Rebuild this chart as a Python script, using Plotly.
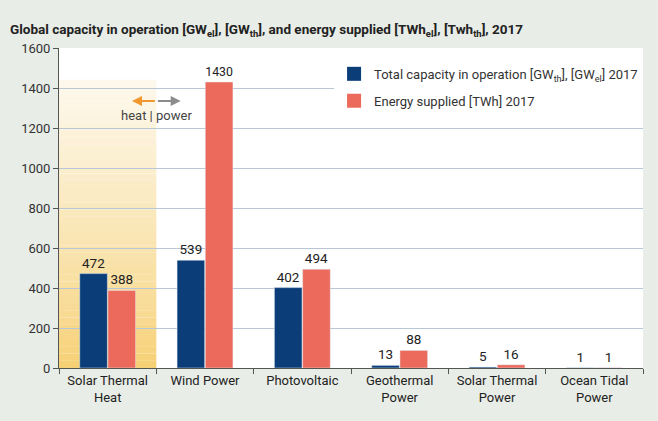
import plotly.graph_objects as go

categories = ["Solar Thermal<br>Heat", "Wind Power", "Photovoltaic",
              "Geothermal<br>Power", "Solar Thermal<br>Power", "Ocean Tidal<br>Power"]
capacity = [472, 539, 402, 13, 5, 1]
energy = [388, 1430, 494, 88, 16, 1]
y_ticks = [0, 200, 400, 600, 800, 1000, 1200, 1400, 1600]
names = ["Total capacity in operation [GW<sub>th</sub>], [GW<sub>el</sub>] 2017",
         "Energy supplied [TWh] 2017"]

FONT = "Roboto, 'Noto Sans', sans-serif"
BLUE = "#0b3e78"
ORANGE = "#ec6a5b"

fig = go.Figure()
for vals, col, nm, g in [(capacity, BLUE, names[0], "a"), (energy, ORANGE, names[1], "b")]:
    fig.add_trace(go.Bar(
        x=categories, y=vals, name=nm, marker_color=col, showlegend=False, legendgroup=g,
        text=[str(v) for v in vals], textposition="outside",
        textfont=dict(size=13.5, color="#222"), cliponaxis=False))
for col, nm, g in [(BLUE, names[0], "a"), (ORANGE, names[1], "b")]:
    fig.add_trace(go.Scatter(
        x=[None], y=[None], mode="markers", name=nm, legendgroup=g,
        marker=dict(symbol="square", size=14, color=col)))

# yellow gradient shading behind first category
n = 40
top = 1440
c0 = (246, 208, 116)
c1 = (253, 248, 236)
shapes = []
for i in range(n):
    t = (i / (n - 1)) ** 0.8
    col = tuple(int(round(c0[k] + (c1[k] - c0[k]) * t)) for k in range(3))
    shapes.append(dict(type="rect", xref="x", yref="y", x0=-0.5, x1=0.5,
                       y0=top * i / n, y1=top * (i + 1) / n + 1,
                       fillcolor="rgb(%d,%d,%d)" % col, line=dict(width=0), layer="below"))

annotations = [
    dict(x=0.25, y=1335, ax=0.5, ay=1335, xref="x", yref="y", axref="x", ayref="y",
         showarrow=True, arrowhead=2, arrowsize=1, arrowwidth=2, arrowcolor="#f0982e", text=""),
    dict(x=0.75, y=1335, ax=0.5, ay=1335, xref="x", yref="y", axref="x", ayref="y",
         showarrow=True, arrowhead=2, arrowsize=1, arrowwidth=2, arrowcolor="#8c8c8c", text=""),
    dict(x=0.5, y=1262, xref="x", yref="y", text="heat | power", showarrow=False,
         font=dict(size=13, color="#444", family=FONT)),
]

fig.update_layout(
    width=658, height=421,
    margin=dict(l=59, r=15, t=48, b=53, autoexpand=False),
    paper_bgcolor="#e9ede7", plot_bgcolor="white",
    font=dict(family=FONT, size=13, color="#333"),
    title=dict(text="<b>Global capacity in operation [GW<sub>el</sub>], [GW<sub>th</sub>], and energy supplied [TWh<sub>el</sub>], [Twh<sub>th</sub>], 2017</b>",
               xref="container", x=10 / 658, xanchor="left", yref="container", y=1 - 29 / 421, yanchor="middle",
               font=dict(size=13.5, color="#222", family=FONT)),
    barmode="group", bargap=0.42, bargroupgap=0.02,
    legend=dict(x=0.471, y=0.966, xanchor="left", yanchor="top", bgcolor="white",
                font=dict(size=13, color="#333"), tracegroupgap=7),
    shapes=shapes, annotations=annotations,
    showlegend=True,
)
fig.update_yaxes(range=[0, 1600], tickvals=y_ticks, showgrid=True, gridcolor="#b9c6d6", gridwidth=1,
                 showline=True, linecolor="#555", linewidth=1, ticks="outside", ticklen=5,
                 tickcolor="#555", zeroline=False, tickfont=dict(size=13, color="#333"))
fig.update_xaxes(showline=True, linecolor="#555", linewidth=1, ticks="outside", ticklen=5,
                 tickcolor="#555", tickson="boundaries", tickfont=dict(size=13, color="#222"),
                 range=[-0.5, 5.5])

fig.write_html("out.html", config={"displayModeBar": False},
               post_script="document.body.style.margin='0';document.body.style.overflow='hidden';"
                           "document.body.style.background='#e9ede7';")
